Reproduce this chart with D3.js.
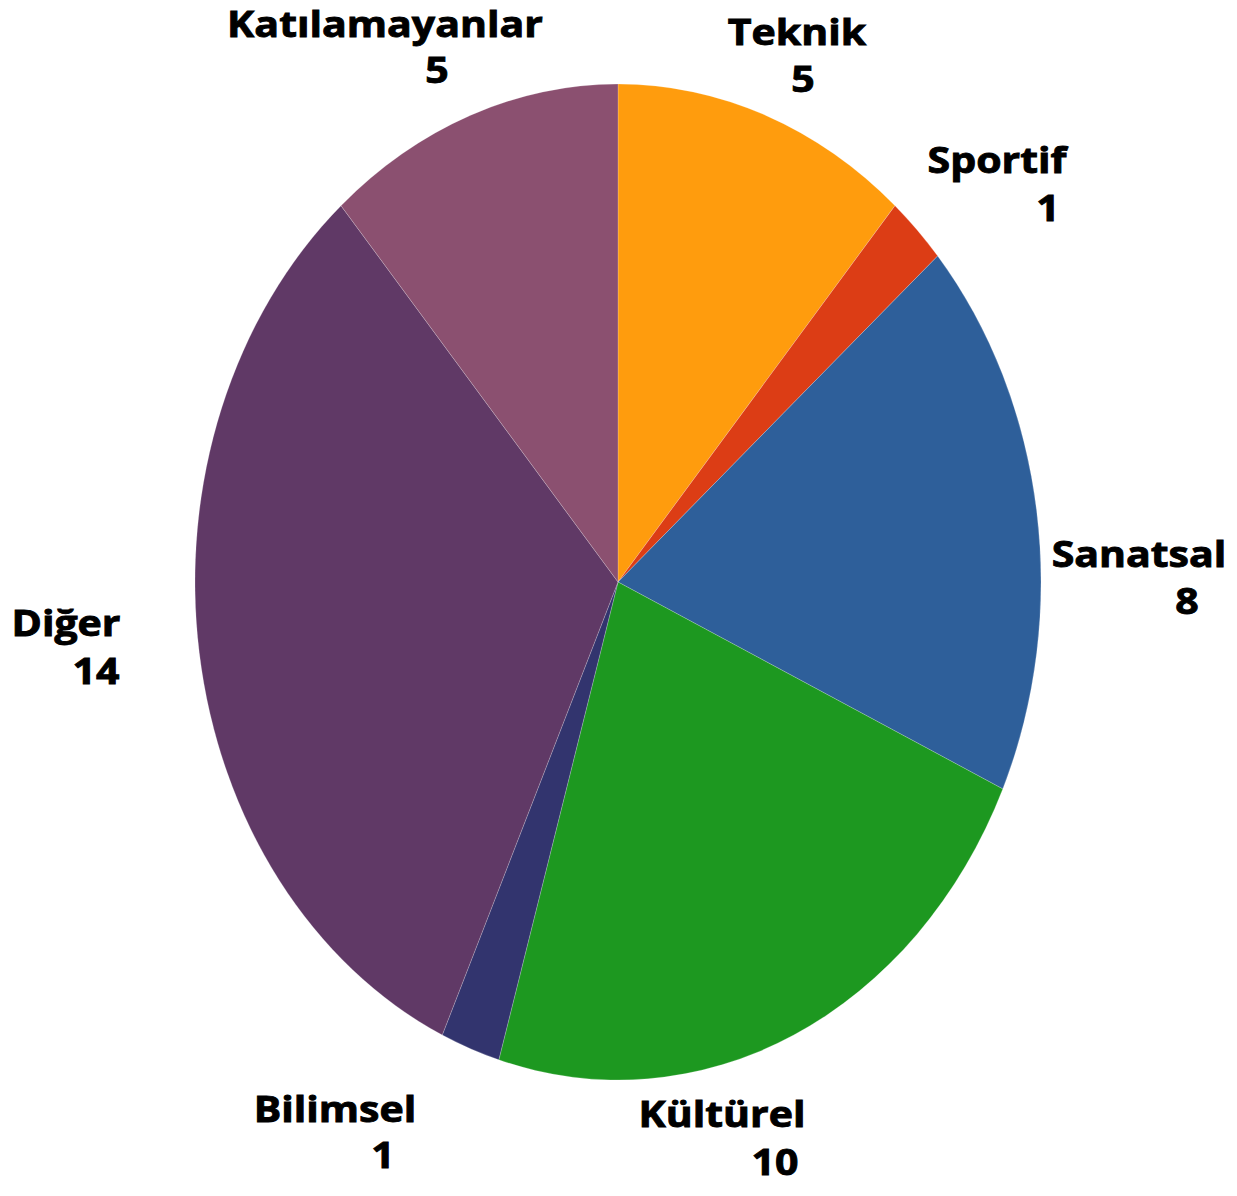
<!DOCTYPE html>
<html>
<head>
<meta charset="utf-8">
<script src="https://cdn.jsdelivr.net/npm/d3@7"></script>
<style>
  html, body { margin: 0; padding: 0; background: #fff; }
  #chart { width: 1237px; height: 1196px; }
</style>
</head>
<body>
<div id="chart"></div>
<script>
// veri
const categories = ['Teknik', 'Sportif', 'Sanatsal', 'Kültürel', 'Bilimsel', 'Diğer', 'Katılamayanlar'];
const values = [5, 1, 8, 10, 1, 14, 5];
const colors = ['#ff9c0d', '#dc3d15', '#2e5f9a', '#1d9820', '#32346e', '#603966', '#8b5070'];

// etiket yerleşimi (isim satırı ve değer satırının merkezleri)
const labelLayout = {
  'Teknik': { nx: 797, ny: 45, vx: 803, vy: 92 },
  'Sportif': { nx: 997, ny: 173, vx: 1048, vy: 221 },
  'Sanatsal': { nx: 1139, ny: 567, vx: 1187, vy: 614 },
  'Kültürel': { nx: 722, ny: 1127, vx: 775, vy: 1175 },
  'Bilimsel': { nx: 335, ny: 1122, vx: 383, vy: 1168 },
  'Diğer': { nx: 66, ny: 636, vx: 96, vy: 684 },
  'Katılamayanlar': { nx: 385, ny: 37, vx: 437, vy: 83 },
};

function chartPie(tagName) {
  const width = 1237;
  const height = 1196;
  const cx = 618; // pie merkezi
  const cy = 582;
  const rx = 423; // yatay yarıçap
  const ry = 498; // dikey yarıçap

  const data = categories.map((name, i) => ({ name: name, value: values[i], color: colors[i] }));

  const svg = d3
    .select(tagName)
    .append('svg')
    .attr('width', width)
    .attr('height', height)
    .attr('viewBox', `0 0 ${width} ${height}`);

  const pie = d3.pie().sort(null).value((d) => d.value);
  const arc = d3.arc().innerRadius(0).outerRadius(rx);

  // elips görünüm için dikey ölçek
  const g = svg.append('g').attr('transform', `translate(${cx}, ${cy}) scale(1, ${ry / rx})`);

  g.selectAll('path')
    .data(pie(data))
    .enter()
    .append('path')
    .attr('d', arc)
    .attr('fill', (d) => d.data.color)
    .attr('stroke', '#ffffff')
    .attr('stroke-opacity', 0.5)
    .attr('stroke-width', 0.4)
    .attr('vector-effect', 'non-scaling-stroke');

  // etiketler
  const labels = svg.append('g').attr('class', 'labels');
  const textStyle = (sel) =>
    sel
      .attr('text-anchor', 'middle')
      .style('font-family', '"Open Sans", "DejaVu Sans", sans-serif')
      .style('font-weight', 'bold')
      .style('font-size', '36px')
      .attr('fill', '#000')
      .attr('stroke', '#000')
      .attr('stroke-width', 0.9);

  data.forEach((d) => {
    const p = labelLayout[d.name];
    labels
      .append('text')
      .attr('transform', `translate(${p.nx}, ${p.ny}) scale(1.14, 1)`)
      .text(d.name)
      .call(textStyle);
    labels
      .append('text')
      .attr('transform', `translate(${p.vx}, ${p.vy}) scale(1.14, 1)`)
      .text(d.value)
      .call(textStyle);
  });
}

chartPie('#chart');
</script>
</body>
</html>
